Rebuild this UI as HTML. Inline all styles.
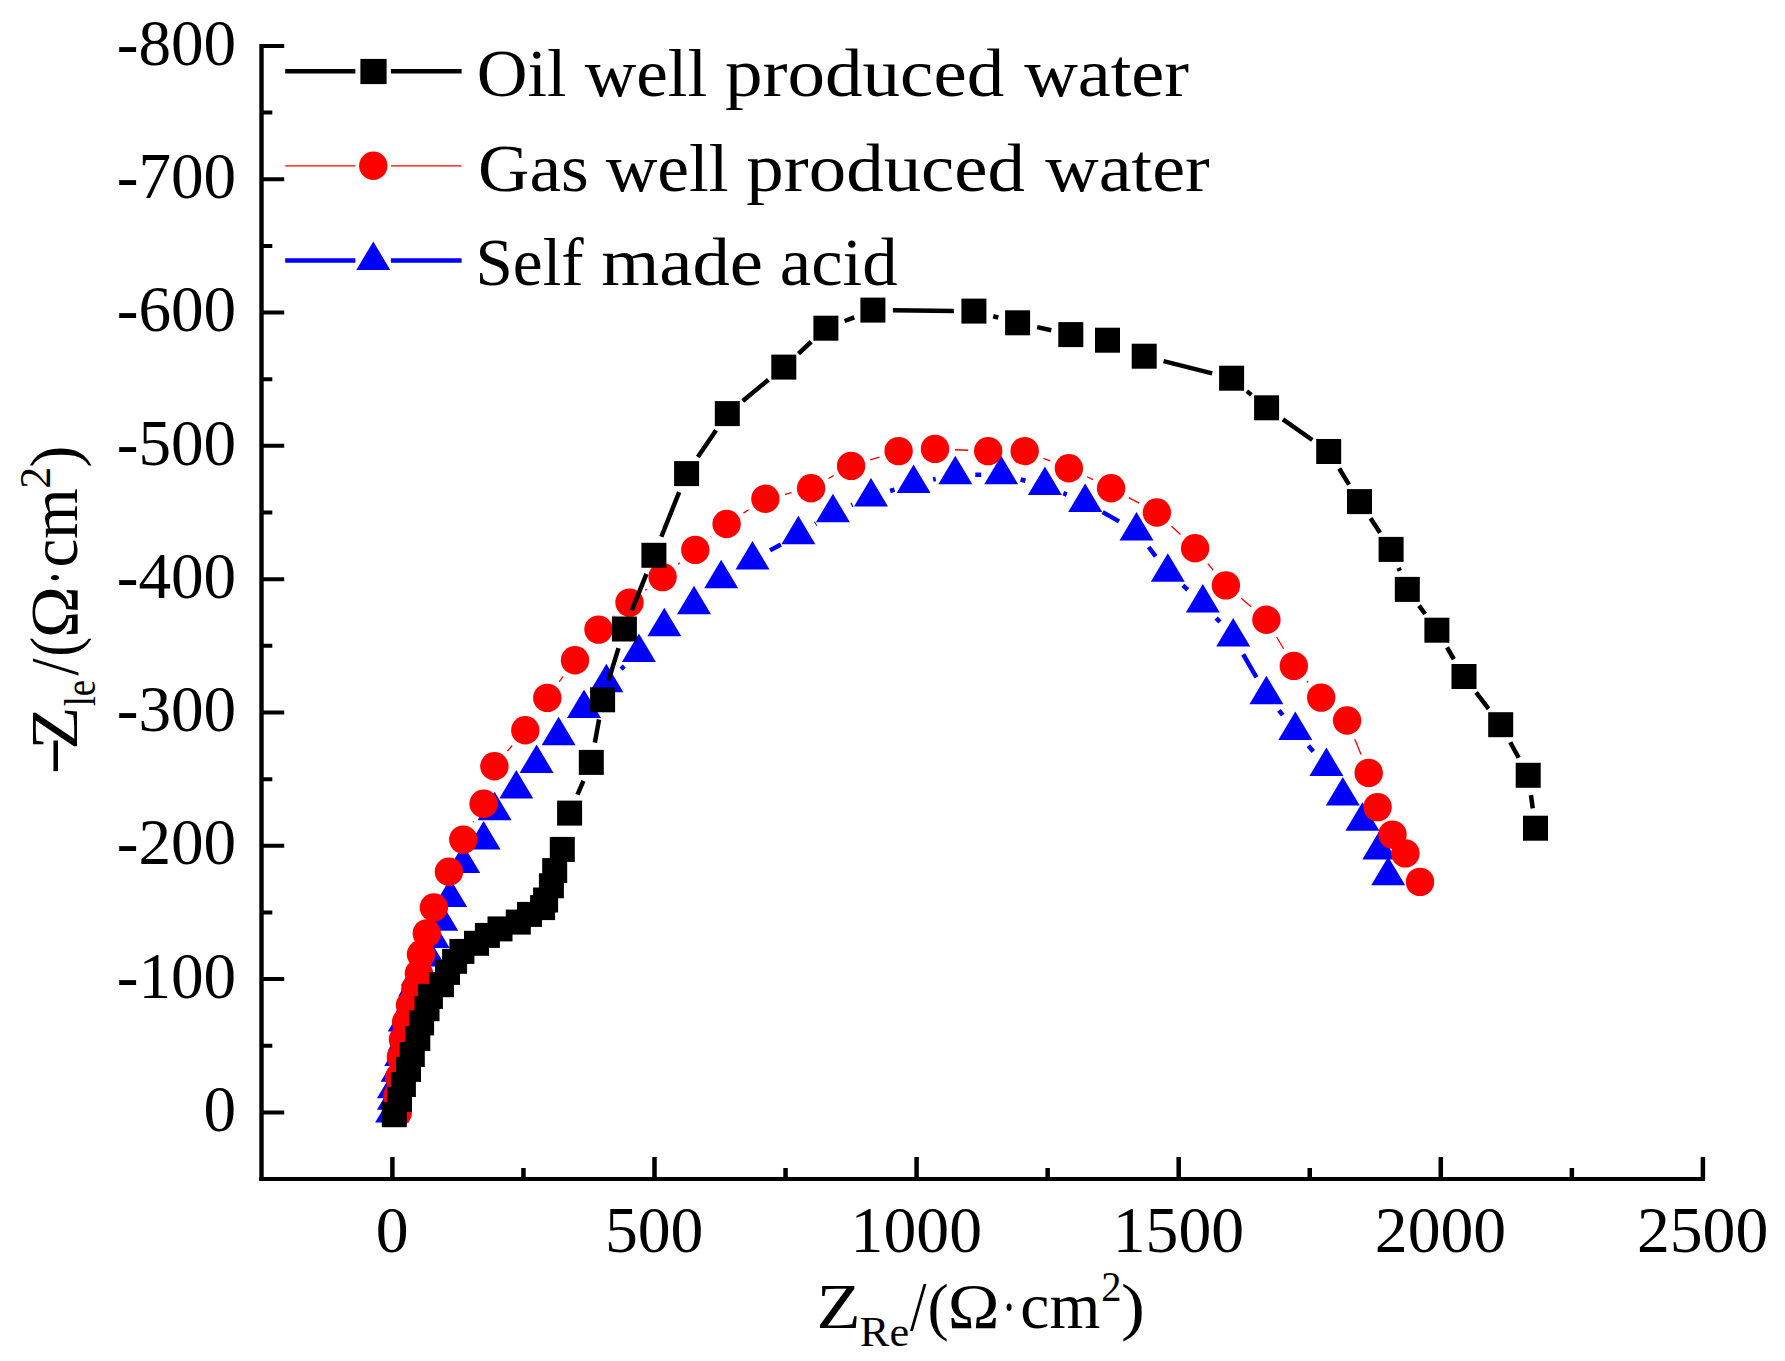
<!DOCTYPE html>
<html lang="en"><head><meta charset="utf-8"><title>Nyquist plot</title>
<style>html,body{margin:0;padding:0;background:#fff}body{width:1785px;height:1361px;overflow:hidden}svg{display:block}text{font-family:"Liberation Serif",serif;fill:#000}.tk{font-size:65.7px}.lg{font-size:68px}.ti{font-size:63px}.sb{font-size:42px}</style></head><body>
<svg width="1785" height="1361" viewBox="0 0 1785 1361">
<rect width="1785" height="1361" fill="#fff"/>
<g stroke="#000" fill="none">
<path stroke-width="4.4" d="M261.5 43.9V1180.9"/>
<path stroke-width="4" d="M259.3 1178.9H1704.9"/>
<path stroke-width="4" d="M261.5 1112.4H284.2M261.5 1045.75H272.3M261.5 979.09H284.2M261.5 912.44H272.3M261.5 845.78H284.2M261.5 779.13H272.3M261.5 712.47H284.2M261.5 645.82H272.3M261.5 579.16H284.2M261.5 512.51H272.3M261.5 445.85H284.2M261.5 379.2H272.3M261.5 312.54H284.2M261.5 245.89H272.3M261.5 179.23H284.2M261.5 112.58H272.3M261.5 45.92H284.2"/>
<path stroke-width="4.5" d="M392.4 1178.9V1157.1M523.45 1178.9V1168M654.5 1178.9V1157.1M785.55 1178.9V1168M916.6 1178.9V1157.1M1047.65 1178.9V1168M1178.7 1178.9V1157.1M1309.75 1178.9V1168M1440.8 1178.9V1157.1M1571.85 1178.9V1168M1702.9 1178.9V1157.1"/>
</g>
<g class="tk" text-anchor="end" style="font-size:65.2px">
<text x="236.2" y="1131.1">0</text>
<text x="236.2" y="997.79">-100</text>
<text x="236.2" y="864.48">-200</text>
<text x="236.2" y="731.17">-300</text>
<text x="236.2" y="597.86">-400</text>
<text x="236.2" y="464.55">-500</text>
<text x="236.2" y="331.24">-600</text>
<text x="236.2" y="197.93">-700</text>
<text x="236.2" y="64.62">-800</text>
</g>
<g class="tk" text-anchor="middle">
<text x="392.1" y="1252.4">0</text>
<text x="654.2" y="1252.4">500</text>
<text x="916.3" y="1252.4">1000</text>
<text x="1178.4" y="1252.4">1500</text>
<text x="1440.5" y="1252.4">2000</text>
<text x="1702.6" y="1252.4">2500</text>
</g>
<g fill="none" stroke="#00f" stroke-width="4.5"><path d="M621.03 669.16L624.27 666.14M770.03 550.37L780.87 544.43M815.24 524.01L816.06 523.49M851.39 505.08L852.51 504.62M890.08 491L894.52 489.6M933.17 479.47L935.73 478.93M975.3 474.8L981.2 474.8M1020.64 479.51L1025.46 480.69M1063.33 493.17L1066.77 494.63M1102.65 512.16L1119.05 521.34M1148.62 547.01L1155.68 556.29M1182.81 585.41L1187.79 589.79M1216.13 617.91L1219.87 622.09M1243.16 654.34L1256.44 677.46M1278.96 710.36L1282.74 715.04M1308.37 745.73L1313.33 751.47"/></g>
<g fill="#00f"><path d="M392.1 1093.9L409.1 1122.4L375.1 1122.4Z"/><path d="M393.9 1081.2L410.9 1109.7L376.9 1109.7Z"/><path d="M393.9 1069.7L410.9 1098.2L376.9 1098.2Z"/><path d="M397.6 1053.3L414.6 1081.8L380.6 1081.8Z"/><path d="M401.2 1037.4L418.2 1065.9L384.2 1065.9Z"/><path d="M404.8 1021.9L421.8 1050.4L387.8 1050.4Z"/><path d="M404.8 1002.9L421.8 1031.4L387.8 1031.4Z"/><path d="M412.5 984L429.5 1012.5L395.5 1012.5Z"/><path d="M415.2 967.7L432.2 996.2L398.2 996.2Z"/><path d="M417.8 956.9L434.8 985.4L400.8 985.4Z"/><path d="M428.8 937.9L445.8 966.4L411.8 966.4Z"/><path d="M432.7 919.4L449.7 947.9L415.7 947.9Z"/><path d="M441.2 902.3L458.2 930.8L424.2 930.8Z"/><path d="M450.2 878.5L467.2 907L433.2 907Z"/><path d="M463.2 844.5L480.2 873L446.2 873Z"/><path d="M483.6 821.1L500.6 849.6L466.6 849.6Z"/><path d="M494.6 791.8L511.6 820.3L477.6 820.3Z"/><path d="M516.3 770L533.3 798.5L499.3 798.5Z"/><path d="M536.6 744.5L553.6 773L519.6 773Z"/><path d="M558.6 716.8L575.6 745.3L541.6 745.3Z"/><path d="M584 689.5L601 718L567 718Z"/><path d="M606.4 663.8L623.4 692.3L589.4 692.3Z"/><path d="M638.9 633.5L655.9 662L621.9 662Z"/><path d="M664.3 607.7L681.3 636.2L647.3 636.2Z"/><path d="M694 585.7L711 614.2L677 614.2Z"/><path d="M721.2 559.8L738.2 588.3L704.2 588.3Z"/><path d="M752.5 541L769.5 569.5L735.5 569.5Z"/><path d="M798.4 515.8L815.4 544.3L781.4 544.3Z"/><path d="M832.9 493.7L849.9 522.2L815.9 522.2Z"/><path d="M871 478L888 506.5L854 506.5Z"/><path d="M913.6 464.6L930.6 493.1L896.6 493.1Z"/><path d="M955.3 455.8L972.3 484.3L938.3 484.3Z"/><path d="M1001.2 455.8L1018.2 484.3L984.2 484.3Z"/><path d="M1044.9 466.4L1061.9 494.9L1027.9 494.9Z"/><path d="M1085.2 483.4L1102.2 511.9L1068.2 511.9Z"/><path d="M1136.5 512.1L1153.5 540.6L1119.5 540.6Z"/><path d="M1167.8 553.2L1184.8 581.7L1150.8 581.7Z"/><path d="M1202.8 584L1219.8 612.5L1185.8 612.5Z"/><path d="M1233.2 618L1250.2 646.5L1216.2 646.5Z"/><path d="M1266.4 675.8L1283.4 704.3L1249.4 704.3Z"/><path d="M1295.3 711.6L1312.3 740.1L1278.3 740.1Z"/><path d="M1326.4 747.6L1343.4 776.1L1309.4 776.1Z"/><path d="M1342.8 777L1359.8 805.5L1325.8 805.5Z"/><path d="M1362.4 802.2L1379.4 830.7L1345.4 830.7Z"/><path d="M1379.3 831.1L1396.3 859.6L1362.3 859.6Z"/><path d="M1388.2 856.8L1405.2 885.3L1371.2 885.3Z"/></g>
<g fill="none" stroke="#f00" stroke-width="1.3"><path d="M473.17 822.2L473.73 821.2M507.45 751.04L512.25 745.46M559.16 681.8L563.14 676.4M613.58 616.46L614.42 615.74M645.34 590.39L646.76 589.31M677.98 564.31L679.92 562.69M710.71 537.15L711.19 536.75M743.37 513.11L748.63 509.69M784.88 494.28L791.62 492.72M828.57 478.46L833.63 475.64M870.19 459.95L879.51 457.05M954.98 449.73L968.22 450.27M1043.35 458.32L1050.25 460.98M1086.97 476.77L1093.03 479.63M1128.77 497.57L1139.23 503.13M1171.51 526.16L1180.49 534.54M1207.85 563.61L1213.15 569.99M1241.14 598.35L1251.16 606.85M1276.62 636.99L1283.58 648.71M1306.88 681.03L1308.12 682.47M1354.72 738.99L1361.08 754.41"/></g>
<g fill="#f00"><circle cx="397.7" cy="1112.7" r="14.2"/><circle cx="397.4" cy="1095.7" r="14.2"/><circle cx="399.2" cy="1077.2" r="14.2"/><circle cx="400.9" cy="1057.1" r="14.2"/><circle cx="403" cy="1039.6" r="14.2"/><circle cx="406.1" cy="1022.1" r="14.2"/><circle cx="410" cy="1005.2" r="14.2"/><circle cx="415.3" cy="989" r="14.2"/><circle cx="418.9" cy="973.5" r="14.2"/><circle cx="421" cy="954.2" r="14.2"/><circle cx="426.8" cy="933.4" r="14.2"/><circle cx="433.9" cy="907.5" r="14.2"/><circle cx="448.9" cy="871.8" r="14.2"/><circle cx="463.3" cy="839.6" r="14.2"/><circle cx="483.6" cy="803.8" r="14.2"/><circle cx="494.4" cy="766.2" r="14.2"/><circle cx="525.3" cy="730.3" r="14.2"/><circle cx="547.3" cy="697.9" r="14.2"/><circle cx="575" cy="660.3" r="14.2"/><circle cx="598.5" cy="629.6" r="14.2"/><circle cx="629.5" cy="602.6" r="14.2"/><circle cx="662.6" cy="577.1" r="14.2"/><circle cx="695.3" cy="549.9" r="14.2"/><circle cx="726.6" cy="524" r="14.2"/><circle cx="765.4" cy="498.8" r="14.2"/><circle cx="811.1" cy="488.2" r="14.2"/><circle cx="851.1" cy="465.9" r="14.2"/><circle cx="898.6" cy="451.1" r="14.2"/><circle cx="935" cy="448.9" r="14.2"/><circle cx="988.2" cy="451.1" r="14.2"/><circle cx="1024.7" cy="451.1" r="14.2"/><circle cx="1068.9" cy="468.2" r="14.2"/><circle cx="1111.1" cy="488.2" r="14.2"/><circle cx="1156.9" cy="512.5" r="14.2"/><circle cx="1195.1" cy="548.2" r="14.2"/><circle cx="1225.9" cy="585.4" r="14.2"/><circle cx="1266.4" cy="619.8" r="14.2"/><circle cx="1293.8" cy="665.9" r="14.2"/><circle cx="1321.2" cy="697.6" r="14.2"/><circle cx="1347.1" cy="720.5" r="14.2"/><circle cx="1368.7" cy="772.9" r="14.2"/><circle cx="1377.6" cy="807.1" r="14.2"/><circle cx="1392.5" cy="834.6" r="14.2"/><circle cx="1405.4" cy="853.4" r="14.2"/><circle cx="1420" cy="881.9" r="14.2"/></g>
<g fill="none" stroke="#000" stroke-width="4.5"><path d="M577.47 794.71L583.43 780.79M594.85 742.72L599.05 719.48M608.49 680.69L618.51 648.11M631.83 610.43L646.47 573.87M661.33 536.73L679.17 492.17M697.83 457.05L716.07 430.15M742.74 400.89L768.36 379.81M798.49 353.53L811.21 341.77M844.56 321.01L854.24 317.29M892.9 310.3L953.9 310.9M993.22 316.27L998.28 317.63M1037.13 327.13L1051.27 330.27M1163.59 361.08L1212.21 373.32M1246.87 391.11L1251.33 394.89M1282.96 419.31L1312.34 439.99M1339.17 468.54L1349.03 484.56M1370.53 518.28L1380.07 532.72M1398.61 567.94L1399.79 570.86M1419.04 605.59L1425.16 614.01M1447 647.46L1453.9 659.24M1476.12 692.41L1488.58 708.79M1510.25 742.27L1518.65 757.73M1530.93 795.11L1532.77 808.39"/></g>
<g fill="#000"><rect x="381.8" y="1102.2" width="25" height="25"/><rect x="387" y="1086.9" width="25" height="25"/><rect x="390.9" y="1072" width="25" height="25"/><rect x="396" y="1056.9" width="25" height="25"/><rect x="399.8" y="1042" width="25" height="25"/><rect x="405.3" y="1026" width="25" height="25"/><rect x="409.1" y="1010.4" width="25" height="25"/><rect x="414.5" y="996.2" width="25" height="25"/><rect x="417.9" y="983.9" width="25" height="25"/><rect x="429" y="972.2" width="25" height="25"/><rect x="435" y="959.9" width="25" height="25"/><rect x="442.1" y="948.8" width="25" height="25"/><rect x="449.4" y="938.9" width="25" height="25"/><rect x="464" y="930.8" width="25" height="25"/><rect x="474.9" y="922.9" width="25" height="25"/><rect x="487.5" y="916.4" width="25" height="25"/><rect x="505.8" y="909.6" width="25" height="25"/><rect x="517" y="901.9" width="25" height="25"/><rect x="530.1" y="895.1" width="25" height="25"/><rect x="533.1" y="887.5" width="25" height="25"/><rect x="538.9" y="873.3" width="25" height="25"/><rect x="542.2" y="858.1" width="25" height="25"/><rect x="549.8" y="836.9" width="25" height="25"/><rect x="557.1" y="800.6" width="25" height="25"/><rect x="578.8" y="749.9" width="25" height="25"/><rect x="590.1" y="687.3" width="25" height="25"/><rect x="611.9" y="616.5" width="25" height="25"/><rect x="641.4" y="542.8" width="25" height="25"/><rect x="674.1" y="461.1" width="25" height="25"/><rect x="714.8" y="401.1" width="25" height="25"/><rect x="771.3" y="354.6" width="25" height="25"/><rect x="813.4" y="315.7" width="25" height="25"/><rect x="860.4" y="297.6" width="25" height="25"/><rect x="961.4" y="298.6" width="25" height="25"/><rect x="1005.1" y="310.3" width="25" height="25"/><rect x="1058.3" y="322.1" width="25" height="25"/><rect x="1095" y="327.7" width="25" height="25"/><rect x="1131.7" y="343.7" width="25" height="25"/><rect x="1219.1" y="365.7" width="25" height="25"/><rect x="1254.1" y="395.3" width="25" height="25"/><rect x="1316.2" y="439" width="25" height="25"/><rect x="1347" y="489.1" width="25" height="25"/><rect x="1378.6" y="536.9" width="25" height="25"/><rect x="1394.8" y="576.9" width="25" height="25"/><rect x="1424.4" y="617.7" width="25" height="25"/><rect x="1451.5" y="664" width="25" height="25"/><rect x="1488.2" y="712.2" width="25" height="25"/><rect x="1515.7" y="762.8" width="25" height="25"/><rect x="1523" y="815.7" width="25" height="25"/></g>
<g fill="none" stroke-width="4.5">
<path stroke="#000" d="M285.2 71.2H355.4M390.9 71.2H461.6"/>
<path stroke="#f00" stroke-width="1.3" d="M285.2 165.8H355.4M390.9 165.8H461.6"/>
<path stroke="#00f" d="M285.2 260.5H355.4M390.9 260.5H461.6"/>
</g>
<g fill="#000"><rect x="360.4" y="58.9" width="26.2" height="25.2"/></g><g fill="#f00"><circle cx="373.3" cy="165.8" r="14.2"/></g><g fill="#00f"><path d="M373.3 241.5L390.3 270L356.3 270Z"/></g>
<text font-size="68" transform="matrix(1.0341 0 0 1.0000 476.8 96.2)">Oil</text><text font-size="68" transform="matrix(1.0469 0 0 1.0000 584.8 96.2)">well</text><text font-size="68" transform="matrix(1.1042 0 0 1.0000 724.93 96.2)">produced</text><text font-size="68" transform="matrix(1.0911 0 0 1.0000 1024.2 96.2)">water</text>
<text font-size="68" transform="matrix(1.0472 0 0 1.0000 477.97 190.8)">Gas</text><text font-size="68" transform="matrix(1.0504 0 0 1.0000 605.7 190.8)">well</text><text font-size="68" transform="matrix(1.1018 0 0 1.0000 746.33 190.8)">produced</text><text font-size="68" transform="matrix(1.0884 0 0 1.0000 1045.3 190.8)">water</text>
<text font-size="68" transform="matrix(0.9876 0 0 1.0000 475.5 285.1)">Self</text><text font-size="68" transform="matrix(1.0995 0 0 1.0000 601.13 285.1)">made</text><text font-size="68" transform="matrix(1.0393 0 0 1.0000 779.79 285.1)">acid</text>
<g>
<text font-size="63.5" transform="matrix(1.1392 0 0 1.0000 816.51 1327.6)">Z</text>
<text font-size="42" transform="matrix(1.0560 0 0 1.0000 859.81 1345.6)">Re</text>
<text font-size="63.5" transform="matrix(0.9295 0 0 1.1000 910 1330)">/</text>
<text font-size="63.5" transform="matrix(1.0023 0 0 1.0000 927.61 1327.6)">(</text>
<text font-size="63.5" transform="matrix(1.0967 0 0 1.0000 947.74 1327.6)">Ω</text>
<text font-size="63.5" transform="matrix(0.6719 0 0 1.0000 1002 1327.6)">·</text>
<text font-size="63.5" transform="matrix(1.0305 0 0 1.0400 1020.36 1327.6)">cm</text>
<text font-size="42" transform="matrix(0.9651 0 0 1.0000 1101.13 1300.9)">2</text>
<text font-size="63.5" transform="matrix(1.1324 0 0 1.0000 1121.05 1327.6)">)</text>
</g>
<g transform="rotate(-90)">
<text font-size="63.5" transform="matrix(0.9397 0 0 1.4300 -770.67 77)">–</text>
<text font-size="63.5" transform="matrix(1.1117 0 0 1.0500 -749.81 76.8)">Z</text>
<text font-size="42" transform="matrix(0.8736 0 0 1.0500 -706.37 95.2)">le</text>
<text font-size="63.5" transform="matrix(0.9631 0 0 1.0500 -675.4 76.8)">/</text>
<text font-size="63.5" transform="matrix(0.9407 0 0 1.0500 -656.77 76.8)">(</text>
<text font-size="63.5" transform="matrix(1.0967 0 0 1.0500 -638.06 76.8)">Ω</text>
<text font-size="63.5" transform="matrix(0.6719 0 0 1.0500 -584.8 76.8)">·</text>
<text font-size="63.5" transform="matrix(1.0212 0 0 1.0500 -567.43 76.8)">cm</text>
<text font-size="42" transform="matrix(1.0441 0 0 1.0500 -488.67 50)">2</text>
<text font-size="63.5" transform="matrix(1.0316 0 0 1.0500 -467.55 76.8)">)</text>
</g>
</svg></body></html>
